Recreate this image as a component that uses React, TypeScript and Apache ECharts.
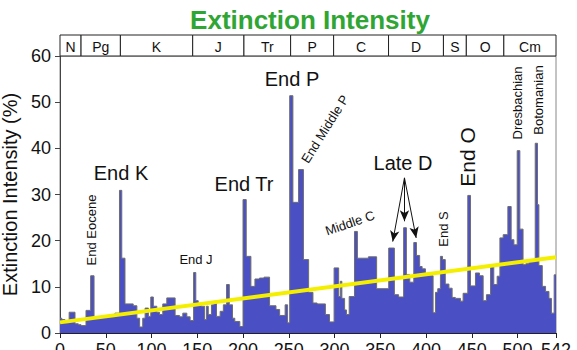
import React, { useEffect, useRef } from "react";
import * as echarts from "echarts";

// Extinction intensity (%) — step data: start age (Ma) of each interval and its value
const ages = [
  0, 2, 5.5, 10, 16.4, 20, 23, 28.4, 33.5, 37.2, 45, 52, 60, 65, 67.5, 71, 80, 84, 87, 90.4,
  93, 96.6, 99.2, 102, 105.8, 108.7, 112.3, 116.7, 125.8, 130.6, 134.2, 138.6, 142.2, 146, 148.4, 151, 154.5, 158, 160, 162,
  165.5, 168, 171, 175, 178.5, 182, 185, 188.5, 191, 196.5, 200, 203.5, 208.6, 213, 218, 223, 229, 236, 240, 246,
  248.7, 251, 254.5, 260.7, 266, 271.7, 276.4, 281, 290, 294.5, 299.5, 304.5, 306.3, 308, 311, 313, 316, 321.8, 325, 337,
  346, 359.2, 365.4, 370, 375.5, 378.5, 382.2, 386.6, 389.5, 393, 395.7, 399.3, 407.7, 410.3, 412.8, 415.7, 418, 421, 425, 428.5,
  432, 437.6, 440.5, 445.6, 448.6, 454, 458.4, 462.4, 466, 470.5, 474, 477.7, 480.7, 484.3, 489.4, 493, 496, 499.6, 502.5, 506,
  509, 512.4, 519.3, 521.8, 523.3, 527, 530.6, 534.3, 537, 540, 542,
];
const values = [
  3.2, 2.9, 2.2, 4.5, 2.0, 1.8, 1.6, 4.9, 12.4, 3.5, 3.4, 3.5, 4.3, 30.9, 16.2, 6.3, 5.9, 3.2, 1.3, 3.2,
  5.4, 3.6, 7.8, 5.8, 4.5, 4.0, 6.3, 7.6, 3.8, 3.5, 4.3, 3.5, 2.7, 13.1, 7.0, 6.1, 5.8, 2.9, 5.8, 4.0,
  6.1, 6.5, 3.6, 4.7, 6.1, 10.5, 6.1, 3.2, 2.5, 1.4, 28.9, 16.6, 10.1, 11.7, 11.9, 12.1, 5.9, 5.1, 3.8, 6.1,
  2.2, 51.4, 28.3, 35.4, 15.9, 8.8, 6.5, 6.3, 4.0, 2.4, 14.1, 7.9, 11.2, 7.5, 5.0, 4.0, 7.9, 22.0, 16.2, 16.5,
  9.6, 18.4, 8.3, 7.8, 22.8, 12.6, 11.0, 19.6, 16.8, 14.4, 13.9, 12.4, 4.4, 8.8, 9.6, 16.6, 15.9, 10.6, 9.7, 7.7,
  7.5, 6.9, 8.6, 29.8, 10.2, 13.0, 12.4, 7.0, 8.3, 14.6, 10.5, 12.3, 20.6, 21.3, 27.4, 20.2, 19.1, 39.5, 22.5, 14.8,
  15.0, 15.4, 41.1, 27.8, 14.6, 10.1, 9.0, 7.5, 4.3, 12.6, 12.6,
];

// Linear trend (age Ma, %)
const trendAges = [0, 542];
const trendValues = [2.3, 16.4];

// Geologic periods
const periodNames = ["N", "Pg", "K", "J", "Tr", "P", "C", "D", "S", "O", "Cm"];
const periodBounds = [0, 23, 66, 145, 201, 252, 299, 359, 419, 444, 485, 542];

// Axis ticks
const xTicks = [0, 50, 100, 150, 200, 250, 300, 350, 400, 450, 500, 542];

// Late D arrows
const arrowFrom = [376.4, 33.6];
const arrowTargets = [
  [363.6, 19.8],
  [376.4, 24.2],
  [389.2, 20.6],
];

const FONT = "'Liberation Sans', Arial, Helvetica, sans-serif";

export default function App() {
  const ref = useRef<HTMLDivElement>(null);
  useEffect(() => {
    if (!ref.current) return;
    const chart = echarts.init(ref.current, null, { renderer: "svg" });
    const stepData = ages.map((a, i) => [a, values[i]]);
    const trendData = trendAges.map((a, i) => [a, trendValues[i]]);
    const periodData = periodNames.map((n, i) => [periodBounds[i], periodBounds[i + 1]]);

    const annot = (text: string, x: number, y: number, size: number, rot = 0) => ({
      type: "text",
      x,
      y,
      rotation: rot,
      z: 100,
      style: {
        text,
        align: "center",
        verticalAlign: "middle",
        fontSize: size,
        fontFamily: FONT,
        fill: "#111",
      },
    });

    chart.setOption({
      animation: false,
      backgroundColor: "#fff",
      textStyle: { fontFamily: FONT },
      title: {
        text: "Extinction Intensity",
        left: 305,
        top: 2,
        textAlign: "center",
        textStyle: { color: "#2fa534", fontSize: 26, fontWeight: "bold", fontFamily: FONT },
      },
      grid: [
        {
          left: 60, right: 21, top: 56, bottom: 17,
          show: true, borderColor: "#888", borderWidth: 1,
          containLabel: false, outerBoundsMode: "none",
        },
        { left: 60, right: 21, top: 35, height: 21, containLabel: false, outerBoundsMode: "none" },
      ],
      xAxis: [
        {
          type: "value",
          gridIndex: 0,
          min: 0,
          max: 542,
          axisLine: { show: true, lineStyle: { color: "#222", width: 1 } },
          axisTick: { show: true, length: 5, customValues: xTicks, lineStyle: { color: "#222" } },
          axisLabel: { customValues: xTicks, fontSize: 18, color: "#111", margin: 8, fontFamily: FONT },
          splitLine: { show: false },
        },
        { type: "value", gridIndex: 1, min: 0, max: 542, show: false },
      ],
      yAxis: [
        {
          type: "value",
          gridIndex: 0,
          min: 0,
          max: 60,
          interval: 10,
          name: "Extinction Intensity (%)",
          nameLocation: "middle",
          nameRotate: 90,
          nameGap: 36,
          nameTextStyle: { fontSize: 20, color: "#111", fontFamily: FONT },
          axisLine: { show: true, lineStyle: { color: "#444", width: 1 } },
          axisTick: { show: true, length: 5, lineStyle: { color: "#444" } },
          axisLabel: { fontSize: 18, color: "#111", margin: 9, fontFamily: FONT },
          splitLine: { show: false },
        },
        { type: "value", gridIndex: 1, min: 0, max: 1, show: false },
      ],
      series: [
        {
          type: "line",
          xAxisIndex: 0,
          yAxisIndex: 0,
          step: "end",
          data: stepData,
          symbol: "none",
          lineStyle: { color: "#6e6e6e", width: 1 },
          areaStyle: { color: "#4b4fc4", opacity: 1 },
          z: 2,
          markLine: {
            silent: true,
            symbol: ["none", "arrow"],
            symbolSize: [7, 11],
            label: { show: false },
            lineStyle: { color: "#111", width: 1, type: "solid" },
            data: arrowTargets.map((t) => [{ coord: arrowFrom }, { coord: t }]),
          },
        },
        {
          type: "line",
          xAxisIndex: 0,
          yAxisIndex: 0,
          data: trendData,
          symbol: "none",
          lineStyle: { color: "#f4ef00", width: 4 },
          z: 5,
        },
        {
          type: "custom",
          xAxisIndex: 1,
          yAxisIndex: 1,
          data: periodData,
          renderItem: (params: any, api: any) => {
            const p0 = api.coord([api.value(0), 1]);
            const p1 = api.coord([api.value(1), 0]);
            return {
              type: "group",
              children: [
                {
                  type: "rect",
                  shape: { x: p0[0], y: p0[1], width: p1[0] - p0[0], height: p1[1] - p0[1] },
                  style: { fill: "#fff", stroke: "#222", lineWidth: 1 },
                },
                {
                  type: "text",
                  style: {
                    text: periodNames[params.dataIndex],
                    x: (p0[0] + p1[0]) / 2,
                    y: (p0[1] + p1[1]) / 2 + 1,
                    align: "center",
                    verticalAlign: "middle",
                    fontSize: 14,
                    fontFamily: FONT,
                    fill: "#111",
                  },
                },
              ],
            };
          },
        },
      ],
      graphic: [
        annot("End Eocene", 91, 230, 13, Math.PI / 2),
        annot("End K", 121, 173, 20),
        annot("End J", 196, 259, 13),
        annot("End Tr", 244, 184, 20),
        annot("End P", 292, 79, 20),
        annot("End Middle P", 325, 129, 13, (58 * Math.PI) / 180),
        annot("Middle C", 350, 223, 13, (19 * Math.PI) / 180),
        annot("Late D", 403, 163, 20),
        annot("End S", 443, 229, 13, Math.PI / 2),
        annot("End O", 467, 157, 21, Math.PI / 2),
        annot("Dresbachian", 517, 103, 13, Math.PI / 2),
        annot("Botomanian", 538, 100, 13, Math.PI / 2),
      ],
    });
    return () => chart.dispose();
  }, []);
  return (
    <div
      ref={ref}
      style={{ position: "fixed", left: 0, top: 0, width: 577, height: 350 }}
    />
  );
}
